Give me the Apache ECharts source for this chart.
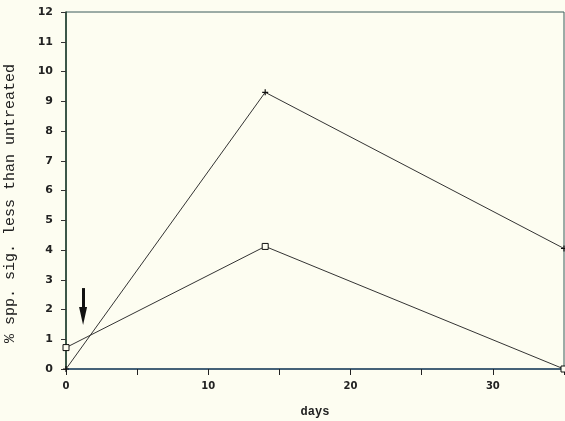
<!DOCTYPE html>
<html><head><meta charset="utf-8">
<script src="https://cdn.jsdelivr.net/npm/echarts@6/dist/echarts.min.js"></script>
<style>html,body{margin:0;padding:0;background:#fdfdf1;}#c{width:565px;height:421px;}</style>
</head><body><div id="c"></div>
<script>
var days = [0, 14, 35];
var plusSeries = [0, 9.3, 4.05];
var squareSeries = [0.72, 4.12, 0];
var arrowDay = 1.2;
var arrowFrom = 2.72, arrowTo = 1.48;

var chart = echarts.init(document.getElementById('c'));
function pairs(xs, ys){ return xs.map(function(x,i){return [x, ys[i]];}); }
chart.setOption({
  backgroundColor: '#fdfdf1',
  animation: false,
  grid: {left: 66, top: 12, right: 1, bottom: 52, containLabel: false, outerBoundsMode: 'none',
    show: true, borderColor: '#3a5a5a', borderWidth: 1, backgroundColor: 'transparent'},
  xAxis: {
    type: 'value', min: 0, max: 35, interval: 5,
    name: 'days', nameLocation: 'middle', nameGap: 37,
    nameTextStyle: {fontFamily: 'Liberation Mono', fontSize: 12, fontWeight: 'bold', color: '#222'},
    axisLine: {lineStyle: {color: '#2a4a6a', width: 1.5}},
    axisTick: {show: true, length: 6, lineStyle: {color: '#222'}},
    axisLabel: {fontFamily: 'DejaVu Sans', fontSize: 10, fontWeight: 'bold', color: '#222', margin: 12,
      formatter: function(v){ return v % 10 === 0 ? String(v) : ''; }},
    splitLine: {show: false}
  },
  yAxis: {
    type: 'value', min: 0, max: 12, interval: 1,
    name: '% spp. sig. less than untreated', nameLocation: 'middle', nameGap: 48,
    nameTextStyle: {fontFamily: 'Liberation Mono', fontSize: 15, color: '#222', padding: [0, 26, 0, 0]},
    axisLine: {lineStyle: {color: '#1d3b2a', width: 1.5}},
    axisTick: {show: true, length: 5, lineStyle: {color: '#333'}},
    axisLabel: {fontFamily: 'DejaVu Sans', fontSize: 11, fontWeight: 'bold', color: '#222', margin: 13},
    splitLine: {show: false}
  },
  series: [
    {
      type: 'line', data: pairs(days, plusSeries),
      symbol: 'path://M4,0L6,0L6,4L10,4L10,6L6,6L6,10L4,10L4,6L0,6L0,4L4,4Z', symbolSize: 6,
      lineStyle: {color: '#333', width: 1}, itemStyle: {color: '#111'},
      markLine: {
        silent: true, symbol: ['none', 'triangle'], symbolSize: [8, 18], symbolOffset: [0, 0],
        lineStyle: {color: '#111', width: 3, type: 'solid'},
        label: {show: false},
        data: [[{coord: [arrowDay, arrowFrom]}, {coord: [arrowDay, arrowTo + 0.3]}]]
      }
    },
    {
      type: 'line', data: pairs(days, squareSeries),
      symbol: 'rect', symbolSize: 6,
      lineStyle: {color: '#333', width: 1},
      itemStyle: {color: '#fdfdf1', borderColor: '#111', borderWidth: 1}
    }
  ]
});
</script></body></html>
